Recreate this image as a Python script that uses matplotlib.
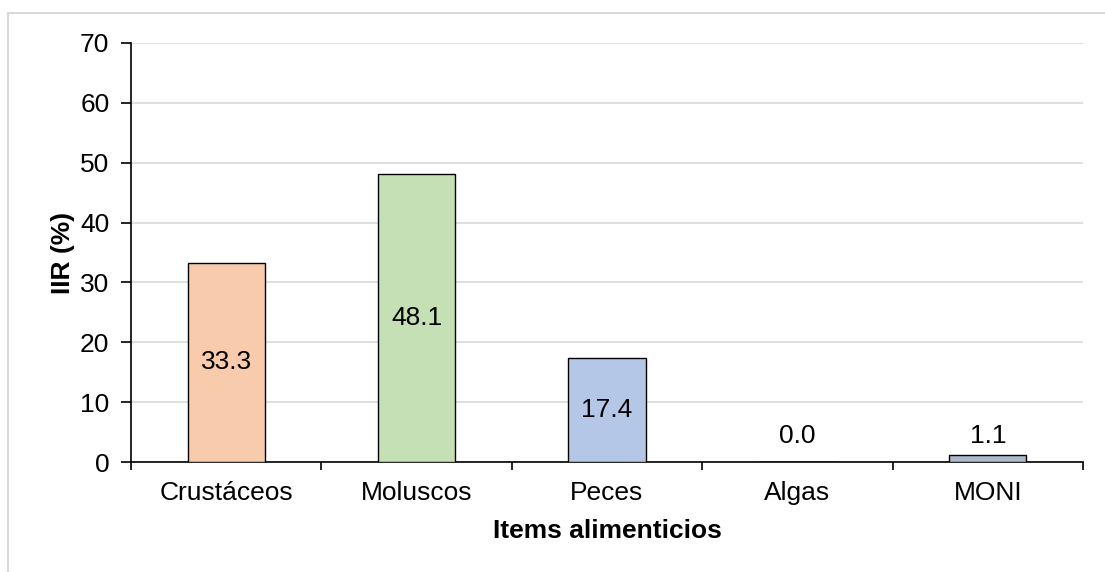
import matplotlib
matplotlib.use("Agg")
import matplotlib.pyplot as plt
from matplotlib.patches import Rectangle

categories = ["Crustáceos", "Moluscos", "Peces", "Algas", "MONI"]
values = [33.3, 48.1, 17.4, 0.0, 1.1]
bar_colors = ["#F8CBAD", "#C5E0B4", "#B4C7E7", "#D9D9D9", "#ADB9CA"]
y_ticks = [0, 10, 20, 30, 40, 50, 60, 70]

plt.rcParams["font.family"] = ["Liberation Sans", "DejaVu Sans"]

FS = 19
W, H = 1105, 572
fig = plt.figure(figsize=(W / 100, H / 100), dpi=100)
fig.patch.set_facecolor("white")

# light frame around the chart area
fig.patches.append(Rectangle((8 / W, -0.05), 1.2, 1 - 13 / H + 0.05,
                             transform=fig.transFigure, fill=False,
                             edgecolor="#D9D9D9", linewidth=1.5, zorder=0))

ax = fig.add_axes([131 / W, 1 - 462 / H, (1083 - 131) / W, (462 - 43) / H])

x = list(range(len(categories)))
ax.bar(x, values, width=0.405, color=bar_colors, edgecolor="black",
       linewidth=1.0, zorder=3)

for xi, v in zip(x, values):
    ly = v / 2 if v > 5 else 4.3
    ax.text(xi, ly, f"{v:.1f}", ha="center", va="center",
            fontsize=FS, color="black", zorder=4)

ax.set_xlim(-0.5, len(categories) - 0.5)
ax.set_ylim(0, 70)
ax.set_yticks(y_ticks)
ax.set_yticklabels([str(t) for t in y_ticks], fontsize=FS)
ax.yaxis.grid(True, color="#D9D9D9", linewidth=1.2, zorder=0)
ax.set_axisbelow(True)

# category labels centred, tick marks on category boundaries
ax.set_xticks(x)
ax.set_xticklabels(categories, fontsize=FS)
ax.tick_params(axis="x", which="major", length=0, pad=14)
ax.set_xticks([i - 0.5 for i in range(len(categories) + 1)], minor=True)
ax.tick_params(axis="x", which="minor", length=6, width=1.2, direction="out")
ax.tick_params(axis="y", length=7, width=1.2, direction="out", pad=8.5)

for side in ["top", "right"]:
    ax.spines[side].set_visible(False)
for side in ["left", "bottom"]:
    ax.spines[side].set_linewidth(1.2)
    ax.spines[side].set_color("black")

ax.set_xlabel("Items alimenticios", fontsize=FS, fontweight="bold", labelpad=10)
ax.set_ylabel("IIR (%)", fontsize=FS, fontweight="bold", labelpad=4)

fig.savefig("out.png", dpi=100)
